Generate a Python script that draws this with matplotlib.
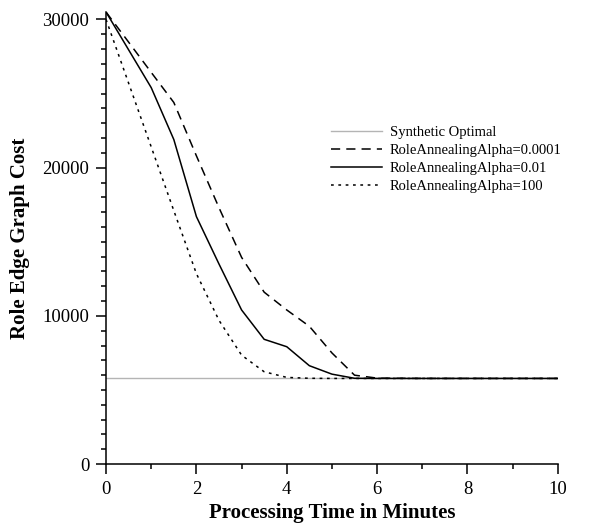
import matplotlib
matplotlib.use('Agg')
import matplotlib.pyplot as plt
from matplotlib.ticker import MultipleLocator

plt.rcParams['font.family'] = ['Liberation Serif', 'DejaVu Serif']

# minutes
time_min = [0, 0.5, 1, 1.5, 2, 2.5, 3, 3.5, 4, 4.5, 5, 5.5, 6, 7, 8, 9, 10]

synthetic_optimal = 5780

# RoleAnnealingAlpha=0.0001
cost_alpha_0001 = [30500, 28470, 26430, 24400, 20800, 17300, 13950, 11600, 10400,
                   9300, 7500, 6000, 5800, 5780, 5780, 5780, 5780]
# RoleAnnealingAlpha=0.01
cost_alpha_001 = [30500, 27950, 25400, 21900, 16700, 13500, 10400, 8420, 7920,
                  6640, 6070, 5790, 5780, 5780, 5780, 5780, 5780]
# RoleAnnealingAlpha=100
cost_alpha_100 = [30000, 25700, 21400, 17100, 12850, 9700, 7350, 6230, 5850,
                  5790, 5780, 5780, 5780, 5780, 5780, 5780, 5780]

fig = plt.figure(figsize=(6.13, 5.25), dpi=100)
ax = fig.add_axes([0.173, 0.116, 0.737, 0.861])

ax.axhline(synthetic_optimal, color='#b4b4b4', linewidth=1.0, label='Synthetic Optimal')
ax.plot(time_min, cost_alpha_0001, color='black', linewidth=1.1, dashes=(6, 4),
        label='RoleAnnealingAlpha=0.0001')
ax.plot(time_min, cost_alpha_001, color='black', linewidth=1.1,
        label='RoleAnnealingAlpha=0.01')
ax.plot(time_min, cost_alpha_100, color='black', linewidth=1.1, dashes=(1.8, 3),
        label='RoleAnnealingAlpha=100')

ax.set_xlim(0, 10)
ax.set_ylim(0, 30500)
ax.xaxis.set_major_locator(MultipleLocator(2))
ax.xaxis.set_minor_locator(MultipleLocator(1))
ax.yaxis.set_major_locator(MultipleLocator(10000))
ax.yaxis.set_minor_locator(MultipleLocator(1000))
ax.tick_params(which='major', direction='out', length=7, width=1.1, labelsize=13.5, pad=5)
ax.tick_params(which='minor', direction='out', length=3.5, width=1.1)

for side in ['top', 'right']:
    ax.spines[side].set_visible(False)
for side in ['left', 'bottom']:
    ax.spines[side].set_linewidth(1.1)

ax.set_xlabel('Processing Time in Minutes', fontsize=15, fontweight='bold', labelpad=4)
ax.set_ylabel('Role Edge Graph Cost', fontsize=15, fontweight='bold', labelpad=9)

ax.legend(loc='upper left', bbox_to_anchor=(0.498, 0.748), frameon=False, fontsize=10.5,
          handlelength=3.5, handletextpad=0.55, labelspacing=0.33, borderaxespad=0,
          borderpad=0)

plt.savefig('out.png', dpi=100)
